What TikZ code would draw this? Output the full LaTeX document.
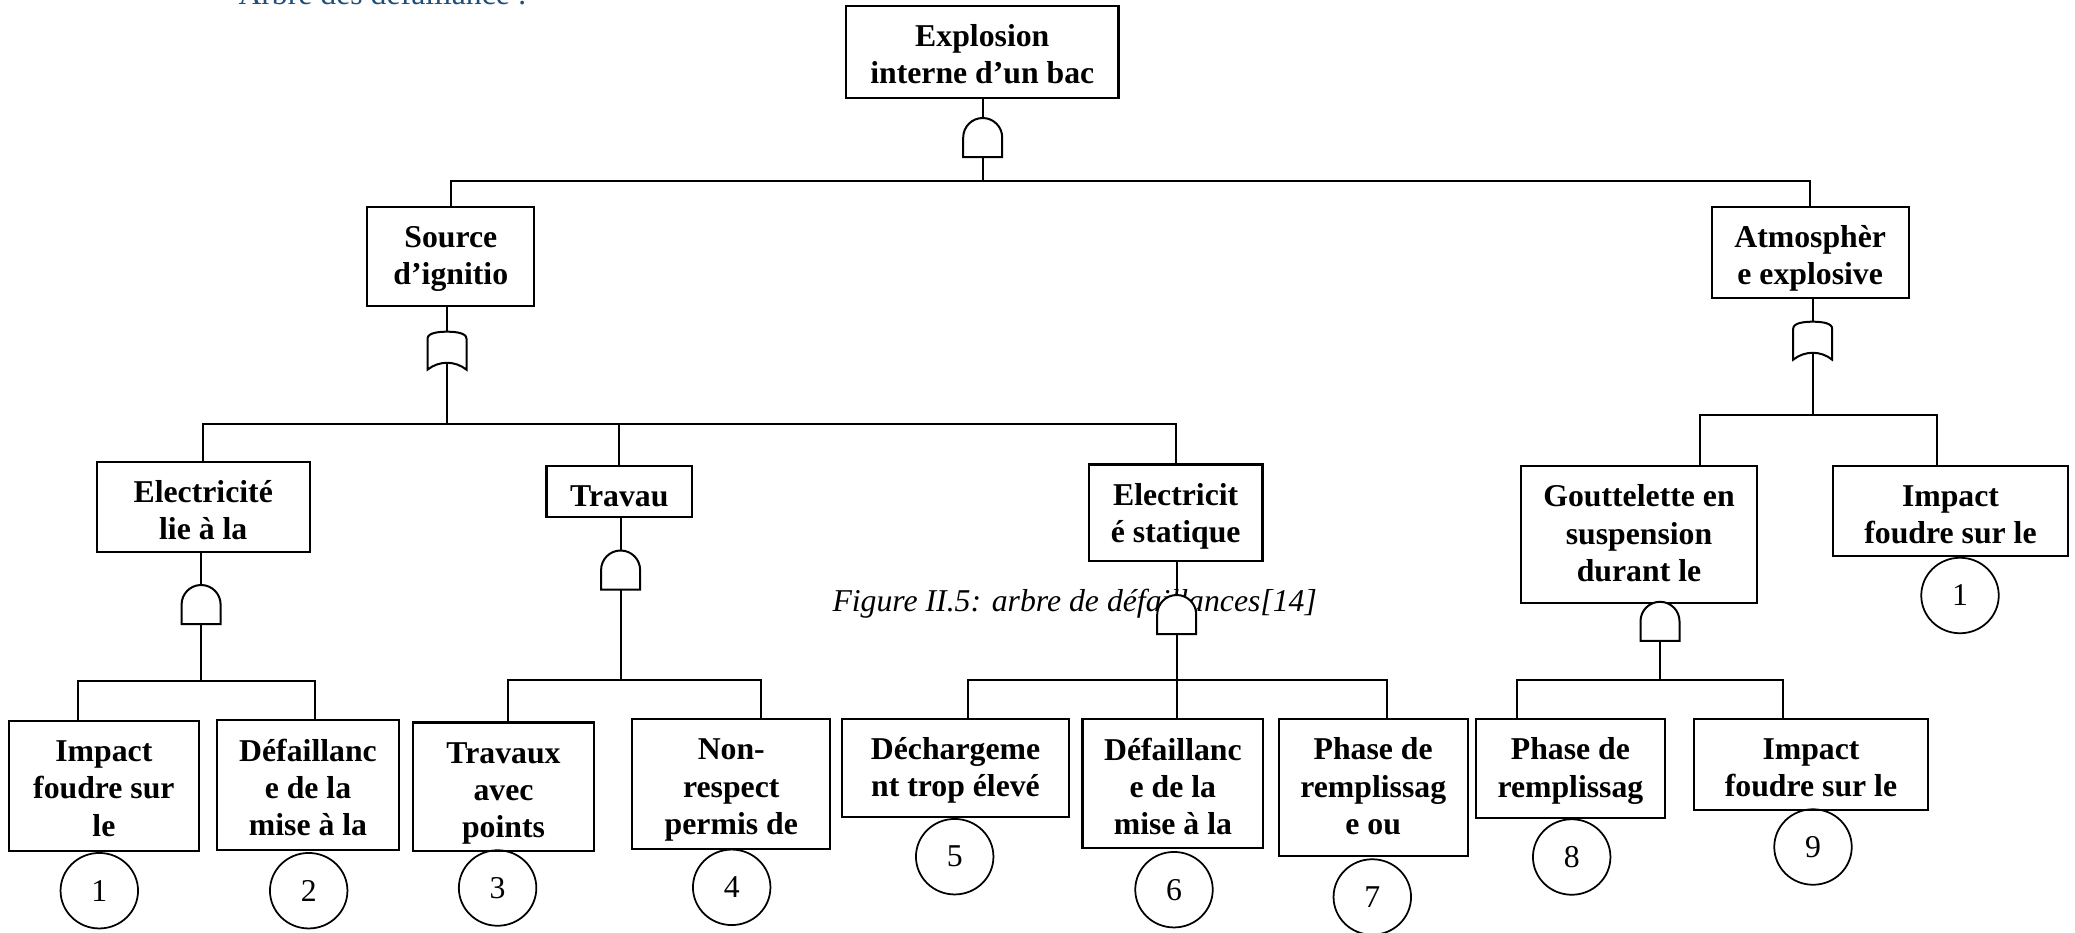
\documentclass[tikz,border=0pt]{standalone}
\usepackage{fontspec}
\setmainfont{Liberation Serif}
\usetikzlibrary{shapes.geometric}
\definecolor{headblue}{RGB}{31,78,121}

% OR gate outline: rounded top, concave bottom
\newcommand\orgateshape[1]{%
  \draw[gateline] (#1.south west) -- ++(0,12.4pt)
    .. controls +(0,2.4pt) and +(-3.2pt,0) .. (#1.north)
    .. controls +(3.2pt,0) and +(0,2.4pt) .. ([yshift=12.4pt]#1.south east)
    -- (#1.south east)
    .. controls +(-4.6pt,3.7pt) and +(4.6pt,3.7pt) .. (#1.south west) -- cycle;}
% AND gate outline: flat bottom, half-disc top
\newcommand\andgateshape[1]{%
  \draw[gateline] (#1.south west) -- (#1.west)
    arc[start angle=180,end angle=0,radius=7.8pt]
    -- (#1.south east) -- cycle;}

\begin{document}
\begin{tikzpicture}[x=0.4pt,y=-0.4pt,
  evtlabel/.style={anchor=north, yshift=-6.1pt, align=center, inner sep=0pt,
    font=\fontsize{12.7}{14.9}\selectfont\bfseries},
  evt/.style n args={3}{draw, line width=0.9pt, inner sep=0pt,
    minimum width=#1, minimum height=#2,
    label={[evtlabel]north:{\strut #3}}},
  basic/.style={draw, ellipse, line width=0.7pt, minimum width=31pt,
    minimum height=30.2pt, inner sep=0pt, font=\fontsize{12.7}{14.6}\selectfont},
  gatebox/.style={minimum width=15.6pt, minimum height=#1, inner sep=0pt,
    outer sep=0pt, anchor=north},
  wire/.style={line width=0.8pt},
  gateline/.style={line width=0.8pt, fill=white},
]
\useasboundingbox (0,0) rectangle (2075,933);
\clip (0,0) rectangle (2075,933);

% heading and caption
\node[anchor=base west, inner sep=0pt, text=headblue,
  font=\fontsize{12.7}{14.6}\selectfont] (head) at (238,4.5) {Arbre des défaillance :};
\node[anchor=base west, inner sep=0pt,
  font=\fontsize{12.7}{14.6}\selectfont\itshape] (cap) at (832,611.7)
  {Figure II.5: arbre de défaillances[14]};

% events
\node[evt={109pt}{36.7pt}{Explosion\\interne d’un bac}] (top) at (982.3,51.9) {};
\node[evt={66.8pt}{39.6pt}{Source\\d’ignitio}] (src) at (450.8,256.2) {};
\node[evt={78.8pt}{36.6pt}{Atmosphèr\\e explosive}] (atm) at (1810.2,252.5) {};

\node[evt={85.2pt}{36pt}{Electricité\\lie à la}] (e1) at (203.2,506.8) {};
\node[evt={58.2pt}{20.6pt}{Travau}] (tr) at (619.3,491.6) {};
\node[evt={69.4pt}{38.6pt}{Electricit\\é statique}] (es) at (1175.7,512.8) {};
\node[evt={94.4pt}{54.6pt}{Gouttelette en\\suspension\\durant le}] (gt) at (1639,534.5) {};
\node[evt={94pt}{36pt}{Impact\\foudre sur le}] (imp) at (1950.5,511) {};

\node[evt={75.9pt}{51.9pt}{Impact\\foudre sur\\le}] (B1) at (103.9,785.9) {};
\node[evt={72.8pt}{51.9pt}{Défaillanc\\e de la\\mise à la}] (B2) at (308,785.2) {};
\node[evt={72.6pt}{51.4pt}{Travaux\\avec\\points}] (B3) at (503.5,786.8) {};
\node[evt={79.2pt}{51.8pt}{Non-\\respect\\permis de}] (B4) at (731.3,784) {};
\node[evt={91pt}{39.2pt}{Déchargeme\\nt trop élevé}] (B5) at (955.5,768) {};
\node[evt={72.3pt}{51.6pt}{Défaillanc\\e de la\\mise à la}] (B6) at (1172.9,783.8) {};
\node[evt={75.6pt}{54.6pt}{Phase de\\remplissag\\e ou}] (B7) at (1373.2,787.5) {};
\node[evt={75.5pt}{39.4pt}{Phase de\\remplissag}] (B8) at (1570.4,768.5) {};
\node[evt={93.7pt}{36.5pt}{Impact\\foudre sur le}] (B9) at (1811,764.3) {};

% undeveloped basic events
\node[basic] (c1) at (99.3,890.7) {1};
\node[basic] (c2) at (308.7,890.7) {2};
\node[basic] (c3) at (497.6,888) {3};
\node[basic] (c4) at (731.7,887.3) {4};
\node[basic] (c5) at (954.7,856.7) {5};
\node[basic] (c6) at (1174,889.7) {6};
\node[basic] (c7) at (1372.3,897) {7};
\node[basic] (c8) at (1571.7,857) {8};
\node[basic] (c9) at (1813,847) {9};
\node[basic] (c1b) at (1960,595.5) {1};

% gates (placed by their top)
\node[gatebox=15.6pt] (gTop) at (982.7,118) {};
\node[gatebox=15.2pt] (gS) at (447,331.7) {};
\node[gatebox=15.2pt] (gA) at (1812.7,321.7) {};
\node[gatebox=15.6pt] (gE1) at (201.1,585) {};
\node[gatebox=15.6pt] (gTr) at (620.6,550.5) {};
\node[gatebox=15.6pt] (gEs) at (1176.7,595) {};
\node[gatebox=15.6pt] (gG) at (1660,601.8) {};

% bus bars
\coordinate (b1) at (982.7,181.3);
\coordinate (b2) at (447,424);
\coordinate (b3L) at (77.7,680.7);
\coordinate (b3R) at (315.3,680.7);
\coordinate (b4L) at (508,680);
\coordinate (b4R) at (761,680);
\coordinate (b5L) at (967.7,680);
\coordinate (b5R) at (1387.3,680);
\coordinate (b6L) at (1700,415);
\coordinate (b6R) at (1937,415);
\coordinate (b7L) at (1516.5,680);
\coordinate (b7R) at (1782.5,680);

% connectors
\draw[wire] (gTop.north |- top.south) -- (gTop.north);
\draw[wire] (gTop.south) -- (b1);
\draw[wire] (src.north) |- (b1) -| (atm.north);

\draw[wire] (gS.north |- src.south) -- (gS.north);
\draw[wire] ([yshift=2.8pt]gS.south) -- (b2);
\draw[wire] (e1.north) |- (b2) -| (es.north);
\draw[wire] (tr.north) -- (tr.north |- b2);

\draw[wire] (gA.north |- atm.south) -- (gA.north);
\draw[wire] ([yshift=2.8pt]gA.south) -- (gA.south |- b6L);
\draw[wire] (b6L |- gt.north) -- (b6L) -- (b6R) -- (b6R |- imp.north);

\draw[wire] (gE1.north |- e1.south) -- (gE1.north);
\draw[wire] (gE1.south) -- (gE1.south |- b3L);
\draw[wire] (b3L |- B1.north) -- (b3L) -- (b3R) -- (b3R |- B2.north);

\draw[wire] (gTr.north |- tr.south) -- (gTr.north);
\draw[wire] (gTr.south) -- (gTr.south |- b4L);
\draw[wire] (b4L |- B3.north) -- (b4L) -- (b4R) -- (b4R |- B4.north);

\draw[wire] (gEs.north |- es.south) -- (gEs.north);
\draw[wire] (gEs.south) -- (gEs.south |- B6.north);
\draw[wire] (b5L |- B5.north) -- (b5L) -- (b5R) -- (b5R |- B7.north);

\draw[wire] (gG.south) -- (gG.south |- b7L);
\draw[wire] (b7L |- B8.north) -- (b7L) -- (b7R) -- (b7R |- B9.north);

% gate symbols
\andgateshape{gTop}
\andgateshape{gE1}
\andgateshape{gTr}
\andgateshape{gEs}
\andgateshape{gG}
\orgateshape{gS}
\orgateshape{gA}
\end{tikzpicture}
\end{document}
